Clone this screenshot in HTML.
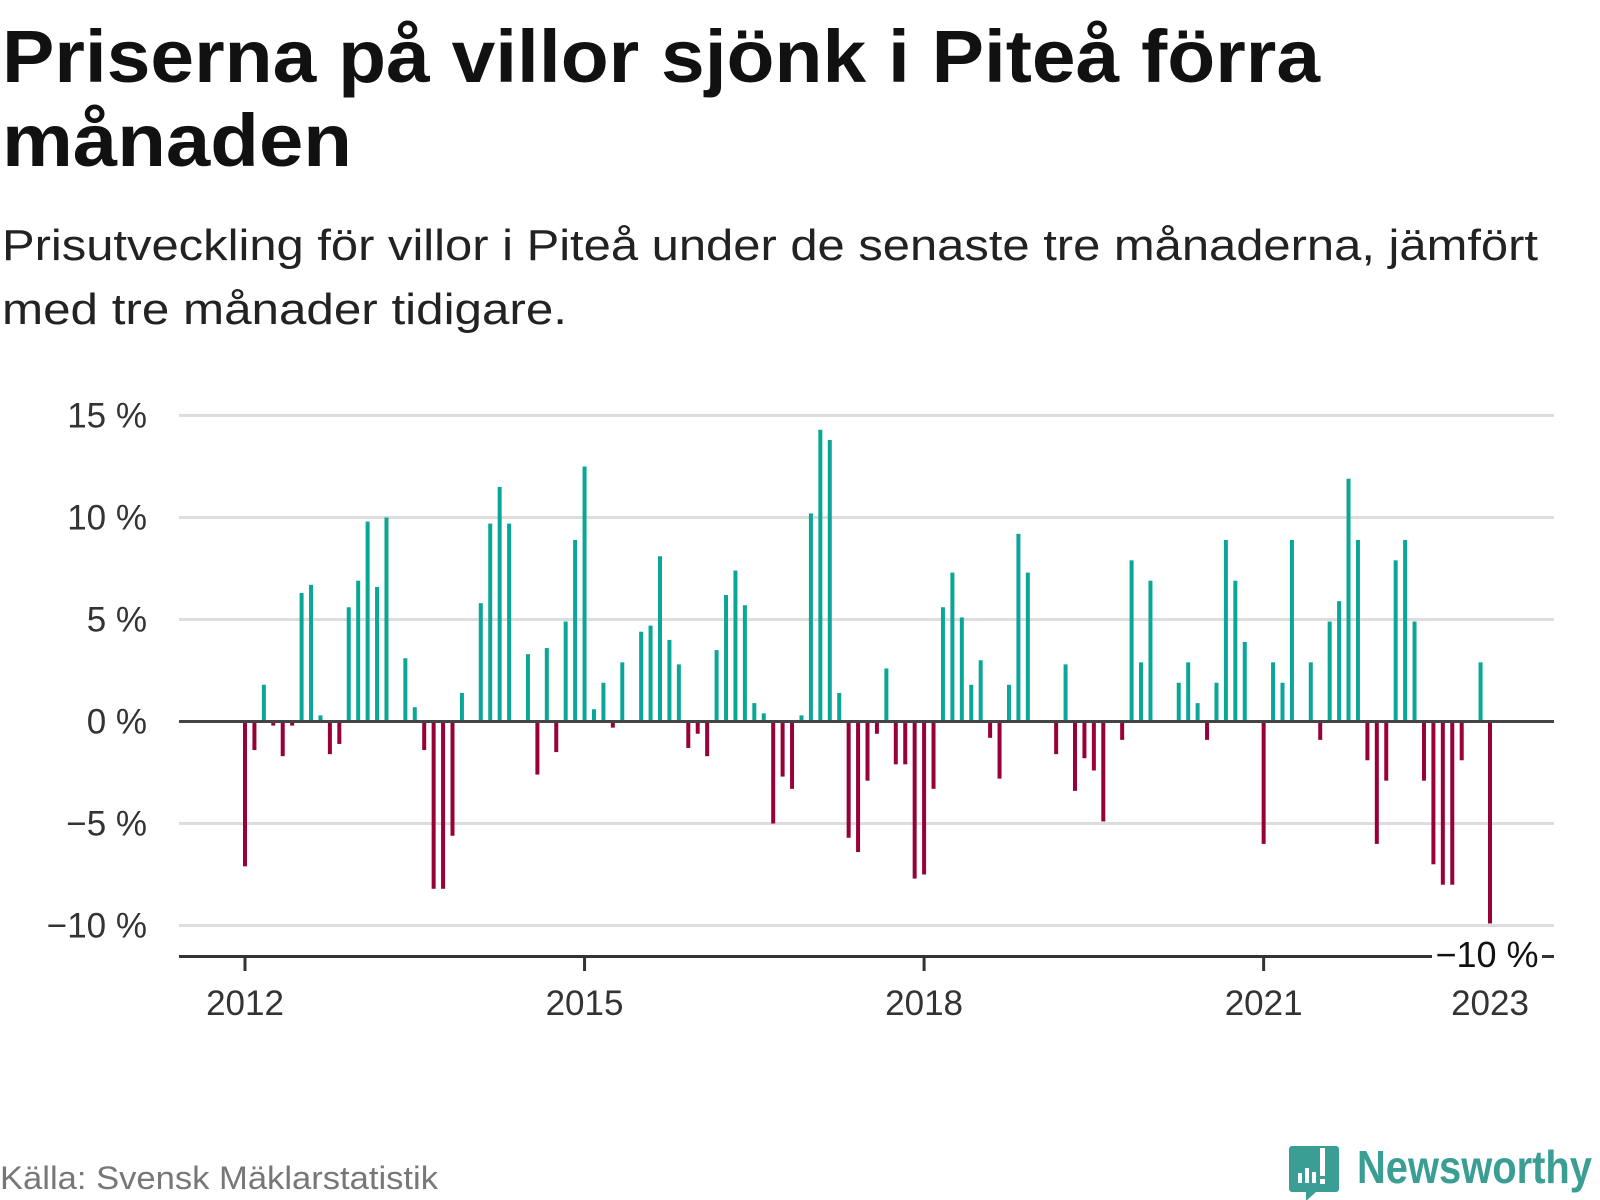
<!DOCTYPE html>
<html><head><meta charset="utf-8"><style>
html,body{margin:0;padding:0;background:#fff;}
svg{display:block;font-family:"Liberation Sans",sans-serif;}
</style></head><body>
<svg id="chart" width="1600" height="1200" viewBox="0 0 1600 1200" xmlns="http://www.w3.org/2000/svg">
<text x="2" y="82" font-size="74" font-weight="bold" fill="#111" textLength="1318" lengthAdjust="spacingAndGlyphs">Priserna på villor sjönk i Piteå förra</text>
<text x="2" y="166" font-size="74" font-weight="bold" fill="#111" textLength="350" lengthAdjust="spacingAndGlyphs">månaden</text>
<text x="2" y="260" font-size="44" fill="#222" textLength="1536" lengthAdjust="spacingAndGlyphs">Prisutveckling för villor i Piteå under de senaste tre månaderna, jämfört</text>
<text x="2" y="324" font-size="44" fill="#222" textLength="565" lengthAdjust="spacingAndGlyphs">med tre månader tidigare.</text>
<g id="grid"></g>
<g id="ylabels"></g>
<g id="bars"></g>
<line x1="179" x2="1554" y1="721.5" y2="721.5" stroke="#444" stroke-width="3"/>
<line x1="179" x2="1554" y1="956.5" y2="956.5" stroke="#333" stroke-width="3"/>
<g id="xticks"></g>
<rect x="1432" y="935" width="110" height="40" fill="#fff"/>
<text id="lastlabel" x="1487" y="967" font-size="36" fill="#111" text-anchor="middle">−10 %</text>
<text x="0" y="1189" font-size="32" fill="#777" textLength="438" lengthAdjust="spacingAndGlyphs">Källa: Svensk Mäklarstatistik</text>
<g>
<path d="M1292 1146 h44 a3 3 0 0 1 3 3 v40 a3 3 0 0 1 -3 3 h-20 l-10 9 v-9 h-14 a3 3 0 0 1 -3 -3 v-40 a3 3 0 0 1 3 -3z" fill="#3a9e94"/>
<rect x="1298" y="1173" width="4" height="10" fill="#fff"/><rect x="1305" y="1168" width="4" height="15" fill="#fff"/><rect x="1312" y="1172" width="4" height="11" fill="#fff"/><rect x="1320" y="1148" width="5" height="28" fill="#fff"/><rect x="1320" y="1179" width="5" height="5" fill="#fff"/>
<text x="1357" y="1183" font-size="46" font-weight="bold" fill="#3a9e94" textLength="235" lengthAdjust="spacingAndGlyphs">Newsworthy</text>
</g>
</svg>
<script>
const values = [-7.1,-1.4,1.8,-0.2,-1.7,-0.2,6.3,6.7,0.3,-1.6,-1.1,5.6,6.9,9.8,6.6,10.0,0,3.1,0.7,-1.4,-8.2,-8.2,-5.6,1.4,0,5.8,9.7,11.5,9.7,0,3.3,-2.6,3.6,-1.5,4.9,8.9,
12.5,0.6,1.9,-0.3,2.9,0,4.4,4.7,8.1,4.0,2.8,-1.3,-0.6,-1.7,3.5,6.2,7.4,5.7,0.9,0.4,-5.0,-2.7,-3.3,0.3,10.2,14.3,13.8,1.4,-5.7,-6.4,-2.9,-0.6,2.6,-2.1,-2.1,
-7.7,-7.5,-3.3,5.6,7.3,5.1,1.8,3.0,-0.8,-2.8,1.8,9.2,7.3,0,0,-1.6,2.8,-3.4,-1.8,-2.4,-4.9,0,-0.9,7.9,2.9,6.9,0,0,1.9,2.9,0.9,-0.9,1.9,8.9,6.9,
3.9,0,-6.0,2.9,1.9,8.9,0,2.9,-0.9,4.9,5.9,11.9,8.9,-1.9,-6.0,-2.9,7.9,8.9,4.9,-2.9,-7.0,-8.0,-8.0,-1.9,0,2.9,-9.9];
const yTicks = [15,10,5,0,-5,-10];
const yTickLabels = ["15 %","10 %","5 %","0 %","−5 %","−10 %"];
const xYears = ["2012","2015","2018","2021","2023"];
const xYearIndex = [0,36,72,108,132];

const NS="http://www.w3.org/2000/svg";
const y = v => 721.5 - v*20.4;
const x = i => 245 + i*(1490-245)/132;
function mk(tag, attrs, parent){const e=document.createElementNS(NS,tag);for(const k in attrs)e.setAttribute(k,attrs[k]);parent.appendChild(e);return e;}
const grid=document.getElementById('grid'), yl=document.getElementById('ylabels'), bars=document.getElementById('bars'), xt=document.getElementById('xticks');
yTicks.forEach((t,k)=>{
  if(t!==0){const g=mk('line',{x1:179,x2:1554,y1:y(t),y2:y(t),stroke:'#ddd','stroke-width':3},grid);
  
  }
  const l=mk('text',{x:147,y:y(t)+12,'font-size':35,fill:'#333','text-anchor':'end'},yl);
  
  
  l.textContent=yTickLabels[k];
});
values.forEach((v,i)=>{
  if(v===0)return;
  const top=Math.min(y(v),y(0)), h=Math.abs(y(v)-y(0));
  const r=mk('rect',{x:x(i)-2,y:top,width:4,height:h,fill:v>0?'#0aa697':'#990039'},bars);
  
  
});
xYears.forEach((yr,k)=>{
  const xi=x(xYearIndex[k]);
  if(k<xYears.length-1){const t=mk('line',{x1:xi,x2:xi,y1:956,y2:971,stroke:'#333','stroke-width':3},xt);
  
  }
  const l=mk('text',{x:xi,y:1015,'font-size':35,fill:'#333','text-anchor':'middle'},xt);
  
  
  l.textContent=yr;
});
</script>
</body></html>
